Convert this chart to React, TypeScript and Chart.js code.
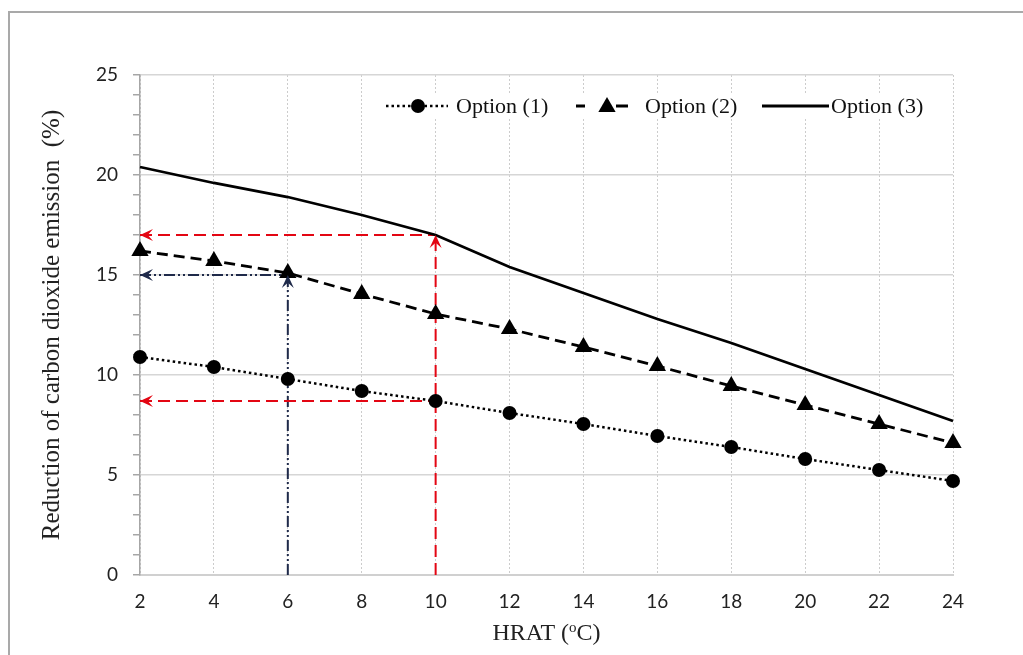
import React, { useEffect, useRef } from 'react';
import { Chart, registerables } from 'chart.js';

Chart.register(...registerables);

// ---- data ----
const hrat = [2, 4, 6, 8, 10, 12, 14, 16, 18, 20, 22, 24];
const option1 = [10.9, 10.4, 9.8, 9.2, 8.7, 8.1, 7.55, 6.95, 6.4, 5.8, 5.25, 4.7];
const option2 = [16.2, 15.7, 15.1, 14.05, 13.05, 12.3, 11.4, 10.45, 9.45, 8.5, 7.55, 6.6];
const option3 = [20.4, 19.6, 18.9, 18.0, 17.0, 15.4, 14.1, 12.8, 11.6, 10.3, 9.0, 7.7];
const seriesNames = ['Option (1)', 'Option (2)', 'Option (3)'];

const yMin = 0;
const yMax = 25;
const yLabelStep = 5;
const xMin = 2;
const xMax = 24;
const xStep = 2;

// guide lines (read-off construction)
const redGuideX = 10;
const redGuideLevels = [17, 8.7];
const navyGuideX = 6;
const navyGuideLevel = 15;

const xTitleParts = ['HRAT (', 'o', 'C)'];
const yTitle = 'Reduction of carbon dioxide emission  (%)';

// ---- styles ----
const RED = '#e30613';
const NAVY = '#1f2a4a';
const SERIF = '"Liberation Serif", "Times New Roman", serif';
const SANS = 'Lato, "Noto Sans", sans-serif';

const pts = (ys: number[]) => hrat.map((x, i) => ({ x, y: ys[i] }));

const guide = (data: { x: number; y: number }[], color: string, dash: number[]) => ({
  label: '',
  data,
  borderColor: color,
  borderWidth: 2,
  borderDash: dash,
  pointRadius: 0,
  fill: false,
  clip: false as const,
});

const arrowPlugin = {
  id: 'guideArrows',
  afterDatasetsDraw(chart: any) {
    const { ctx, scales } = chart;
    const xs = scales.x;
    const ys = scales.y;
    const head = (px: number, py: number, dx: number, dy: number, color: string) => {
      const L = 13;
      const w = 6;
      const bx = px - dx * L;
      const by = py - dy * L;
      const nx = px - dx * L * 0.6;
      const ny = py - dy * L * 0.6;
      const qx = -dy;
      const qy = dx;
      ctx.save();
      ctx.fillStyle = color;
      ctx.beginPath();
      ctx.moveTo(px, py);
      ctx.lineTo(bx + qx * w, by + qy * w);
      ctx.lineTo(nx, ny);
      ctx.lineTo(bx - qx * w, by - qy * w);
      ctx.closePath();
      ctx.fill();
      ctx.restore();
    };
    const x0 = xs.getPixelForValue(xMin);
    redGuideLevels.forEach((lv) => head(x0, ys.getPixelForValue(lv), -1, 0, RED));
    head(xs.getPixelForValue(redGuideX), ys.getPixelForValue(redGuideLevels[0]), 0, -1, RED);
    head(x0, ys.getPixelForValue(navyGuideLevel), -1, 0, NAVY);
    head(xs.getPixelForValue(navyGuideX), ys.getPixelForValue(navyGuideLevel), 0, -1, NAVY);
  },
};

const legendPlugin = {
  id: 'insideLegend',
  afterDatasetsDraw(chart: any) {
    const { ctx, chartArea } = chart;
    const L = chartArea.left;
    const cy = chartArea.top + 31;
    ctx.save();
    ctx.fillStyle = '#ffffff';
    ctx.fillRect(L + 238, cy - 13, 564, 26);
    ctx.strokeStyle = '#000';
    ctx.fillStyle = '#000';
    ctx.lineWidth = 2.5;
    // item 1 : dotted + circle
    ctx.setLineDash([2.5, 3]);
    ctx.beginPath();
    ctx.moveTo(L + 246, cy);
    ctx.lineTo(L + 308, cy);
    ctx.stroke();
    ctx.setLineDash([]);
    ctx.beginPath();
    ctx.arc(L + 278, cy, 7, 0, Math.PI * 2);
    ctx.fill();
    // item 2 : dashed + triangle
    ctx.lineWidth = 2.8;
    ctx.beginPath();
    ctx.moveTo(L + 436, cy);
    ctx.lineTo(L + 445, cy);
    ctx.moveTo(L + 476, cy);
    ctx.lineTo(L + 488, cy);
    ctx.stroke();
    const r = 10;
    const tx = L + 467;
    const ty = cy + 1;
    ctx.beginPath();
    ctx.moveTo(tx, ty - r);
    ctx.lineTo(tx + r * Math.sin((2 * Math.PI) / 3), ty - r * Math.cos((2 * Math.PI) / 3));
    ctx.lineTo(tx + r * Math.sin((4 * Math.PI) / 3), ty - r * Math.cos((4 * Math.PI) / 3));
    ctx.closePath();
    ctx.fill();
    // item 3 : solid
    ctx.beginPath();
    ctx.moveTo(L + 622, cy);
    ctx.lineTo(L + 689, cy);
    ctx.stroke();
    // texts
    ctx.font = `22px ${SERIF}`;
    ctx.textBaseline = 'middle';
    ctx.textAlign = 'left';
    ctx.fillStyle = '#111';
    ctx.fillText(seriesNames[0], L + 316, cy + 1);
    ctx.fillText(seriesNames[1], L + 505, cy + 1);
    ctx.fillText(seriesNames[2], L + 691, cy + 1);
    ctx.restore();
  },
};

const xTitlePlugin = {
  id: 'xTitle',
  afterDraw(chart: any) {
    const { ctx, chartArea } = chart;
    const cx = (chartArea.left + chartArea.right) / 2;
    const cy = chartArea.bottom + 57;
    ctx.save();
    ctx.fillStyle = '#222';
    ctx.textBaseline = 'alphabetic';
    ctx.textAlign = 'left';
    const big = `24px ${SERIF}`;
    const small = `15px ${SERIF}`;
    ctx.font = big;
    const w1 = ctx.measureText(xTitleParts[0]).width;
    const w3 = ctx.measureText(xTitleParts[2]).width;
    ctx.font = small;
    const w2 = ctx.measureText(xTitleParts[1]).width;
    const total = w1 + w2 + w3;
    let x = cx - total / 2;
    const base = cy + 8;
    ctx.font = big;
    ctx.fillText(xTitleParts[0], x, base);
    x += w1;
    ctx.font = small;
    ctx.fillText(xTitleParts[1], x, base - 8);
    x += w2;
    ctx.font = big;
    ctx.fillText(xTitleParts[2], x, base);
    ctx.restore();
  },
};

export default function App() {
  const ref = useRef<HTMLCanvasElement>(null);

  useEffect(() => {
    if (!ref.current) return;
    const chart = new Chart(ref.current, {
      type: 'line',
      data: {
        datasets: [
          {
            label: seriesNames[0],
            data: pts(option1),
            borderColor: '#000',
            borderWidth: 2.5,
            borderDash: [2.5, 3],
            pointStyle: 'circle',
            pointRadius: 7,
            pointBackgroundColor: '#000',
            pointBorderWidth: 0,
            fill: false,
            clip: false,
          },
          {
            label: seriesNames[1],
            data: pts(option2),
            borderColor: '#000',
            borderWidth: 2.8,
            borderDash: [11, 6],
            pointStyle: 'triangle',
            pointRadius: 10,
            pointBackgroundColor: '#000',
            pointBorderWidth: 0,
            fill: false,
            clip: false,
          },
          {
            label: seriesNames[2],
            data: pts(option3),
            borderColor: '#000',
            borderWidth: 2.8,
            pointRadius: 0,
            fill: false,
            clip: false,
          },
          guide([{ x: xMin, y: redGuideLevels[0] }, { x: redGuideX, y: redGuideLevels[0] }], RED, [12, 6]),
          guide([{ x: redGuideX, y: yMin }, { x: redGuideX, y: redGuideLevels[0] }], RED, [12, 6]),
          guide([{ x: xMin, y: redGuideLevels[1] }, { x: redGuideX, y: redGuideLevels[1] }], RED, [12, 6]),
          guide([{ x: xMin, y: navyGuideLevel }, { x: navyGuideX, y: navyGuideLevel }], NAVY, [11, 3, 2, 3, 2, 3]),
          guide([{ x: navyGuideX, y: yMin }, { x: navyGuideX, y: navyGuideLevel }], NAVY, [11, 3, 2, 3, 2, 3]),
        ],
      } as any,
      options: {
        responsive: false,
        devicePixelRatio: 1,
        animation: false,
        events: [],
        layout: { padding: { left: 0, top: 75, right: 70, bottom: 0 } },
        plugins: {
          legend: { display: false },
          tooltip: { enabled: false },
        },
        scales: {
          x: {
            type: 'linear',
            min: xMin,
            max: xMax,
            afterFit: (s: any) => {
              s.height = 80;
              s.paddingLeft = 0;
              s.paddingRight = 0;
            },
            ticks: {
              stepSize: xStep,
              autoSkip: false,
              maxRotation: 0,
              padding: 15,
              color: '#222',
              font: { family: SANS, size: 19 },
            },
            grid: {
              color: '#cccccc',
              lineWidth: 1,
              drawTicks: false,
            },
            border: { display: true, color: '#d0d0d0', width: 2, dash: [2, 2] },
          },
          y: {
            type: 'linear',
            min: yMin,
            max: yMax,
            afterFit: (s: any) => {
              s.width = 140;
              s.paddingTop = 0;
              s.paddingBottom = 0;
            },
            ticks: {
              stepSize: 1,
              autoSkip: false,
              padding: 15,
              color: '#222',
              font: { family: SANS, size: 19 },
              callback: (v: any) => (Number(v) % yLabelStep === 0 ? String(v) : ''),
            },
            grid: {
              color: (c: any) => (c.tick && c.tick.value % yLabelStep === 0 ? '#d6d6d6' : 'rgba(0,0,0,0)'),
              lineWidth: 1.5,
              tickColor: '#a6a6a6',
              tickLength: 7,
              drawTicks: true,
            },
            border: { display: true, color: '#a6a6a6', width: 1.5 },
            title: {
              display: true,
              text: yTitle,
              color: '#222',
              font: { family: SERIF, size: 25 },
              padding: { top: 37, bottom: 0 },
            },
          },
        },
      } as any,
      plugins: [arrowPlugin, legendPlugin, xTitlePlugin],
    });
    return () => chart.destroy();
  }, []);

  return (
    <div style={{ position: 'fixed', left: 0, top: 0, width: 1023, height: 655, background: '#fff', overflow: 'hidden' }}>
      <div
        style={{
          position: 'absolute',
          left: 8,
          top: 11,
          width: 1100,
          height: 700,
          borderTop: '2px solid #a9a9a9',
          borderLeft: '2px solid #a9a9a9',
        }}
      />
      <canvas
        ref={ref}
        width={1023}
        height={655}
        style={{ position: 'absolute', left: 0, top: 0, width: 1023, height: 655 }}
      />
    </div>
  );
}
